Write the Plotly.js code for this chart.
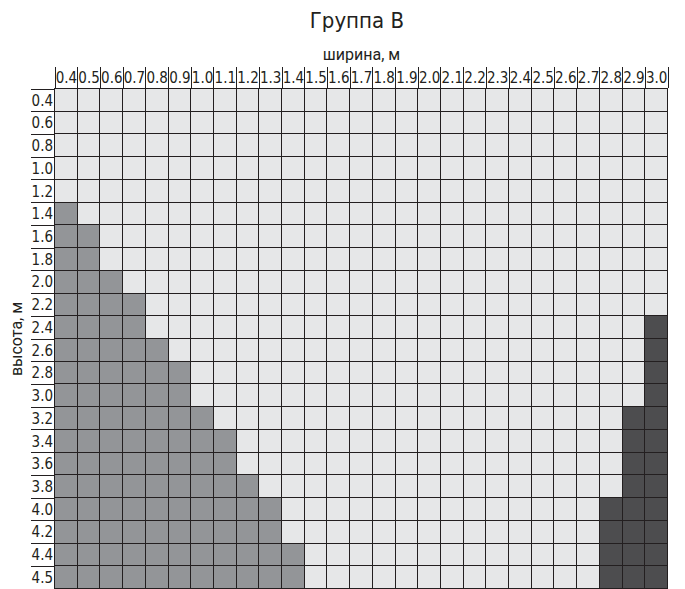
<!DOCTYPE html>
<html>
<head>
<meta charset="utf-8">
<script src="https://cdn.plot.ly/plotly-3.0.1.min.js"></script>
<style>html,body{margin:0;padding:0;background:#fff;}#chart{width:685px;height:589px;}</style>
</head>
<body>
<div id="chart"></div>
<script>
// ширина (columns)
const widths = ["0.4","0.5","0.6","0.7","0.8","0.9","1.0","1.1","1.2","1.3","1.4","1.5","1.6","1.7","1.8","1.9","2.0","2.1","2.2","2.3","2.4","2.5","2.6","2.7","2.8","2.9","3.0"];
// высота (rows)
const heights = ["0.4","0.6","0.8","1.0","1.2","1.4","1.6","1.8","2.0","2.2","2.4","2.6","2.8","3.0","3.2","3.4","3.6","3.8","4.0","4.2","4.4","4.5"];
// number of medium-grey cells counted from the left, per row
const leftGrey = [0,0,0,0,0,1,2,2,3,4,4,5,6,6,7,8,8,9,10,10,11,11];
// number of dark cells counted from the right, per row
const rightDark = [0,0,0,0,0,0,0,0,0,0,1,1,1,1,2,2,2,2,3,3,3,3];

const cLight = "#e6e7e8", cMid = "#939598", cDark = "#4d4d4f", cLine = "#231f20";

const z = heights.map((h, i) => widths.map((w, j) =>
  j < leftGrey[i] ? 1 : (j >= widths.length - rightDark[i] ? 2 : 0)));

const font = '"DejaVu Sans Condensed", "Liberation Sans Narrow", sans-serif';

const trace = {
  type: "heatmap",
  x: widths, y: heights, z: z,
  zmin: 0, zmax: 2,
  colorscale: [[0, cLight], [0.333, cLight], [0.334, cMid], [0.666, cMid], [0.667, cDark], [1, cDark]],
  showscale: false,
  xgap: 1, ygap: 1,
  hoverinfo: "none"
};

const layout = {
  width: 685, height: 589,
  margin: {l: 55, r: 17, t: 89, b: 0},
  paper_bgcolor: "#fff",
  plot_bgcolor: cLine,
  title: {text: "Группа В", x: 0.521, xref: "container", y: 0.966, yref: "container", yanchor: "middle",
          font: {family: font, size: 22, color: "#231f20"}},
  font: {family: font, color: "#231f20"},
  xaxis: {
    type: "category", side: "top", tickson: "boundaries", tickangle: 0,
    ticks: "outside", ticklen: 21, tickcolor: cLine, tickwidth: 1,
    ticklabelstandoff: -1,
    showgrid: false, zeroline: false, showline: true, linecolor: cLine, linewidth: 1,
    tickfont: {family: font, size: 15, color: "#231f20"},
    title: {text: "ширина, м", standoff: 4, font: {family: "Roboto, sans-serif", size: 16, color: "#231f20"}},
    fixedrange: true
  },
  yaxis: {
    type: "category", autorange: "reversed", tickson: "boundaries",
    ticks: "outside", ticklen: 23, tickcolor: cLine, tickwidth: 1,
    ticklabelstandoff: -2,
    showgrid: false, zeroline: false, showline: true, linecolor: cLine, linewidth: 1,
    tickfont: {family: font, size: 15, color: "#231f20"},
    title: {text: "высота, м", standoff: 4, font: {family: "Roboto, sans-serif", size: 16, color: "#231f20"}},
    fixedrange: true
  },
  showlegend: false
};

Plotly.newPlot("chart", [trace], layout, {staticPlot: true, displayModeBar: false});
</script>
</body>
</html>
